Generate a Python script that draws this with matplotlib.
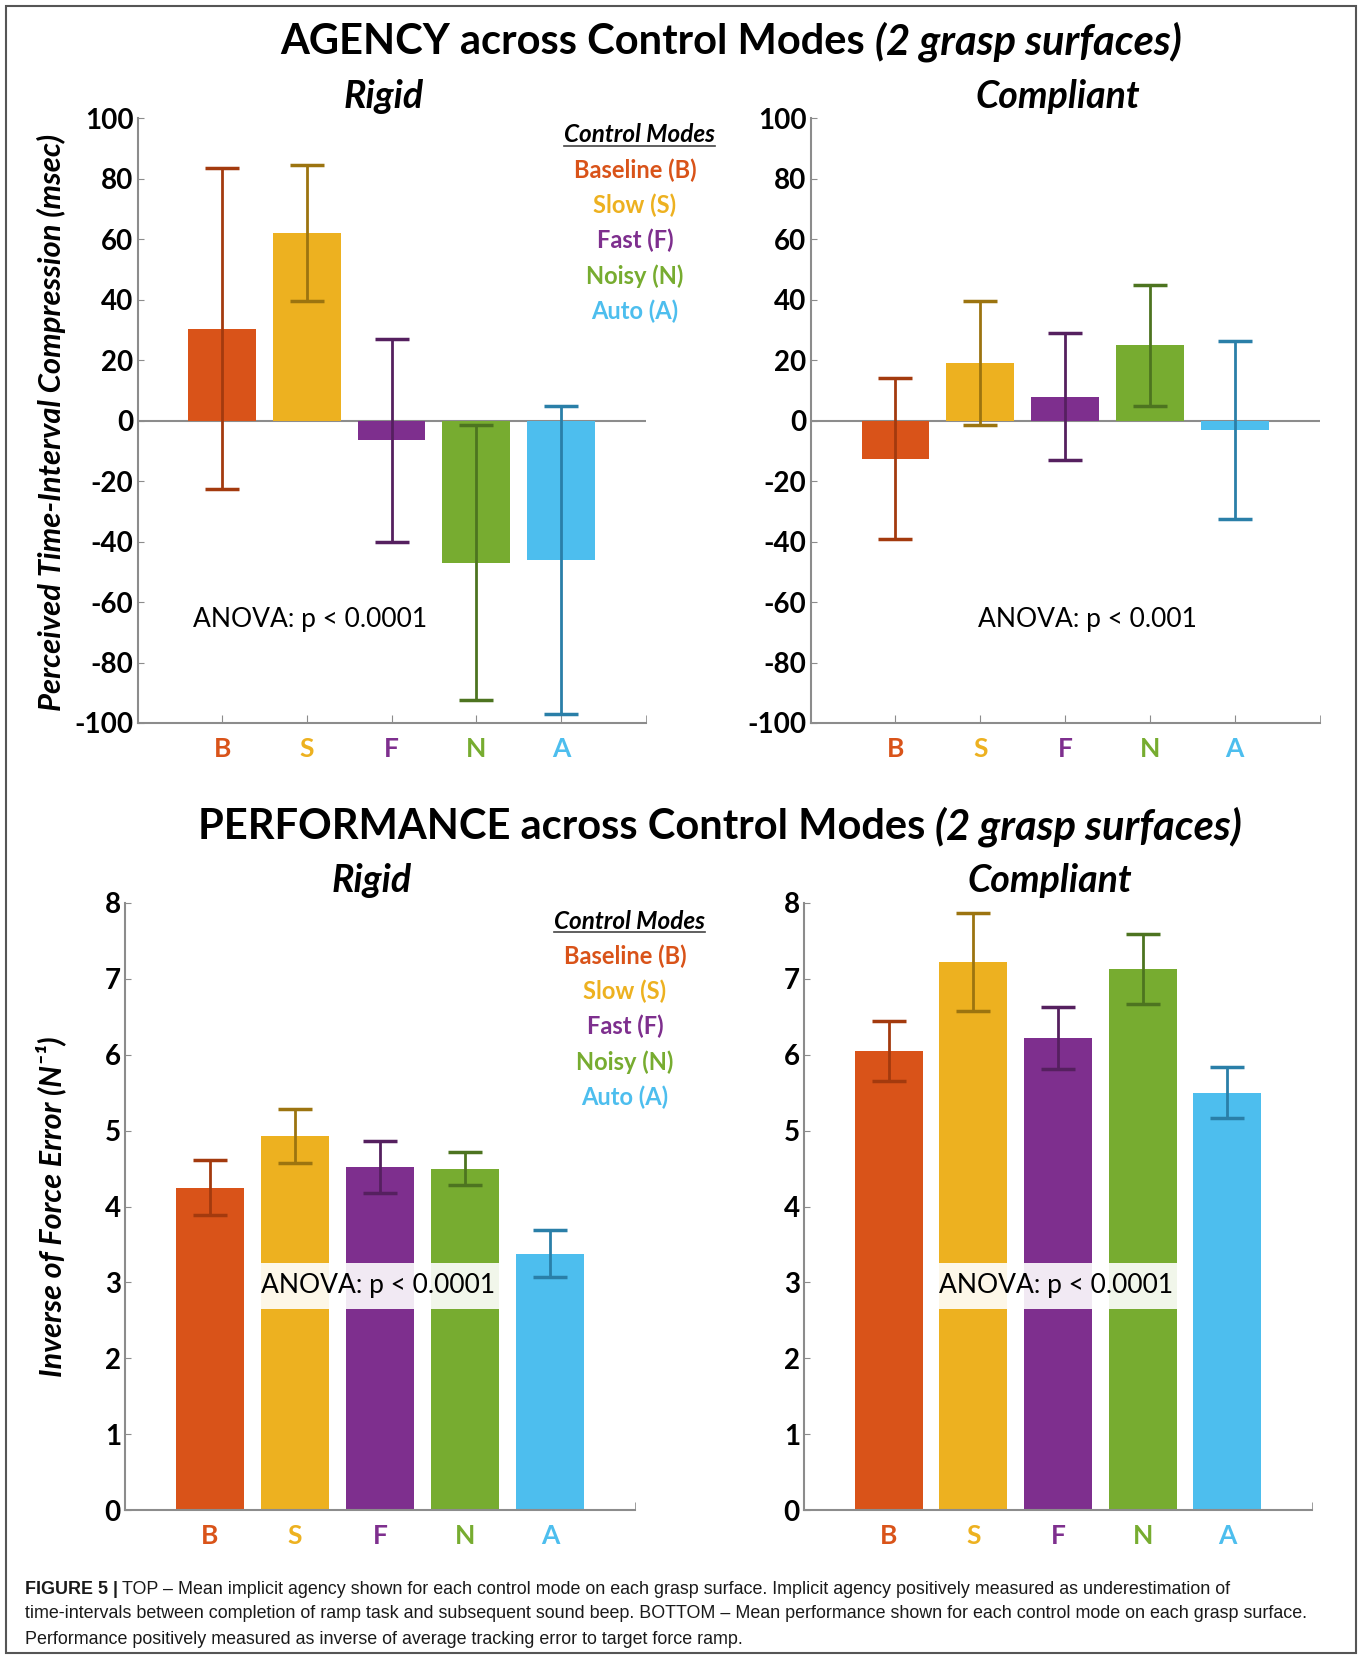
import matplotlib
matplotlib.use("Agg")
import matplotlib.pyplot as plt
import numpy as np
from matplotlib.patches import Rectangle

W, H = 1362, 1659

modes = ["B", "S", "F", "N", "A"]
mode_names = ["Baseline (B)", "Slow (S)", "Fast (F)", "Noisy (N)", "Auto (A)"]
bar_colors = ["#D95319", "#EDB120", "#7E2F8E", "#77AC30", "#4DBEEE"]
err_colors = ["#A33A0E", "#9C7410", "#55205F", "#4D7420", "#2A7FA8"]

# agency, perceived time-interval compression (msec)
agency_rigid = [30.5, 62, -6.5, -47, -46]
agency_rigid_err = [53, 22.5, 33.5, 45.5, 51]
agency_compliant = [-12.5, 19, 8, 25, -3]
agency_compliant_err = [26.5, 20.5, 21, 20, 29.5]

# performance, inverse of force error (1/N)
perf_rigid = [4.25, 4.93, 4.52, 4.5, 3.38]
perf_rigid_err = [0.36, 0.36, 0.34, 0.22, 0.31]
perf_compliant = [6.05, 7.22, 6.22, 7.13, 5.5]
perf_compliant_err = [0.39, 0.65, 0.41, 0.46, 0.34]

FONT = "Lato"
AXGRAY = "#8c8c8c"

fig = plt.figure(figsize=(W / 100, H / 100), dpi=100)


def px(x, y):
    return x / W, 1 - y / H


def two_part(xc, y, part1, part2, size):
    # bold title with a bold-italic tail, centred as a whole
    t1 = fig.text(*px(xc, y), part1 + " ", fontsize=size, fontweight="bold",
                  family=FONT, ha="left", va="center")
    t2 = fig.text(0, 0, part2, fontsize=size, fontweight="bold", style="italic",
                  family=FONT, ha="left", va="center")
    r = fig.canvas.get_renderer()
    b1 = t1.get_window_extent(r)
    b2 = t2.get_window_extent(r)
    total = b1.width + b2.width
    x0 = xc - total / 2
    t1.set_x(x0 / W)
    t2.set_position(((x0 + b1.width) / W, 1 - y / H))


def panel(rect, means, errs, ylim, yticks, subtitle, sub_xy, anova, anova_xy,
          boxed, catticks):
    ax = fig.add_axes(rect)
    x = np.arange(1, 6)
    ax.bar(x, means, width=0.8, color=bar_colors, zorder=2)
    for xi, m, e, c in zip(x, means, errs, err_colors):
        ax.errorbar(xi, m, yerr=e, color=c, capsize=12, elinewidth=2, capthick=2.5,
                    zorder=3)
    ax.set_xlim(0, 6)
    ax.set_ylim(*ylim)
    ax.set_yticks(yticks)
    ax.set_yticklabels([str(v) for v in yticks])
    ax.set_xticks(x)
    ax.set_xticklabels(modes)
    ax.set_xticks([6], minor=True)
    for lab, c in zip(ax.get_xticklabels(), bar_colors):
        lab.set_color(c)
        lab.set_fontweight("bold")
        lab.set_fontsize(19)
        lab.set_family(FONT)
    for lab in ax.get_yticklabels():
        lab.set_fontweight("bold")
        lab.set_fontsize(20)
        lab.set_family(FONT)
    for s in ["top", "right"]:
        ax.spines[s].set_visible(False)
    for s in ["left", "bottom"]:
        ax.spines[s].set_color(AXGRAY)
        ax.spines[s].set_linewidth(1.5)
    ax.tick_params(axis="y", direction="in", length=4, color=AXGRAY, pad=3)
    ax.tick_params(axis="x", which="both", direction="in",
                   length=6 if catticks else 0, color=AXGRAY, pad=10)
    ax.tick_params(axis="x", which="minor", length=6)
    if ylim[0] < 0:
        ax.axhline(0, color=AXGRAY, lw=1.5, zorder=1)
    fig.text(*px(*sub_xy), subtitle, fontsize=27, fontweight="bold", style="italic",
             family=FONT, ha="center", va="center")
    bbox = None
    if boxed:
        bbox = dict(boxstyle="square,pad=0.38", facecolor="white", alpha=0.9,
                    edgecolor="none")
    fig.text(*px(*anova_xy), anova, fontsize=19, family=FONT, ha="center",
             va="center", zorder=5, bbox=bbox)
    return ax


def legend(xc, y0, dy):
    t = fig.text(*px(xc + 4, y0), "Control Modes", fontsize=17.5, fontweight="bold",
                 style="italic", family=FONT, ha="center", va="center")
    # underline
    bb = t.get_window_extent(fig.canvas.get_renderer())
    fig.add_artist(plt.Line2D([bb.x0 / W, bb.x1 / W],
                              [(bb.y0 + 1) / H, (bb.y0 + 1) / H],
                              color="#444444", lw=1.2))
    for i, (name, c) in enumerate(zip(mode_names, bar_colors)):
        fig.text(*px(xc, y0 + dy * (i + 1)), name, fontsize=17, fontweight="bold",
                 family=FONT, color=c, ha="center", va="center")


agency_ticks = list(range(-100, 101, 20))
perf_ticks = list(range(0, 9))

panel([0.101, 0.5642, 0.373, 0.3644], agency_rigid, agency_rigid_err, (-100, 100),
      agency_ticks, "Rigid", (384, 97),
      "ANOVA: p < 0.0001", (310, 620), False, True)
panel([0.5952, 0.5642, 0.3737, 0.3644], agency_compliant, agency_compliant_err,
      (-100, 100), agency_ticks, "Compliant", (1058, 97),
      "ANOVA: p < 0.001", (1087, 620), False, True)
panel([0.0918, 0.0898, 0.3744, 0.3659], perf_rigid, perf_rigid_err, (0, 8),
      perf_ticks, "Rigid", (372, 881),
      "ANOVA: p < 0.0001", (378, 1286), True, False)
panel([0.5903, 0.0898, 0.373, 0.3659], perf_compliant, perf_compliant_err, (0, 8),
      perf_ticks, "Compliant", (1050, 881),
      "ANOVA: p < 0.0001", (1056, 1286), True, False)

fig.text(*px(51, 422), "Perceived Time-Interval Compression (msec)", fontsize=22.3,
         fontweight="bold", style="italic", family=FONT, rotation=90,
         ha="center", va="center")
fig.text(*px(51, 1207), "Inverse of Force Error (N\u207b\u00b9)", fontsize=22,
         fontweight="bold", style="italic", family=[FONT, "DejaVu Sans"],
         rotation=90, ha="center", va="center")

two_part(731, 42, "AGENCY across Control Modes", "(2 grasp surfaces)", 30)
two_part(720, 827, "PERFORMANCE across Control Modes", "(2 grasp surfaces)", 30)

legend(635, 135, 35.2)
legend(625, 921, 35.2)

# caption
cap_font = "Liberation Sans"
cap_size = 12.9
c1 = fig.text(*px(25, 1589), "FIGURE 5 |", fontsize=cap_size, fontweight="bold",
              family=cap_font, ha="left", va="center", color="#1a1a1a")
bb = c1.get_window_extent(fig.canvas.get_renderer())
fig.text((bb.x1 + 4) / W, 1 - 1589 / H,
         "TOP \u2013 Mean implicit agency shown for each control mode on each grasp "
         "surface. Implicit agency positively measured as underestimation of",
         fontsize=cap_size, family=cap_font, ha="left", va="center", color="#1a1a1a")
fig.text(*px(25, 1614),
         "time-intervals between completion of ramp task and subsequent sound beep. "
         "BOTTOM \u2013 Mean performance shown for each control mode on each grasp surface.",
         fontsize=cap_size, family=cap_font, ha="left", va="center", color="#1a1a1a")
fig.text(*px(25, 1640),
         "Performance positively measured as inverse of average tracking error to "
         "target force ramp.",
         fontsize=cap_size, family=cap_font, ha="left", va="center", color="#1a1a1a")

fig.add_artist(Rectangle((5.5 / W, 1 - 1653 / H), (1355.5 - 5.5) / W, (1653 - 5.5) / H,
                         transform=fig.transFigure, fill=False, edgecolor="#555555",
                         lw=1.5))

fig.savefig("out.png", dpi=100)
